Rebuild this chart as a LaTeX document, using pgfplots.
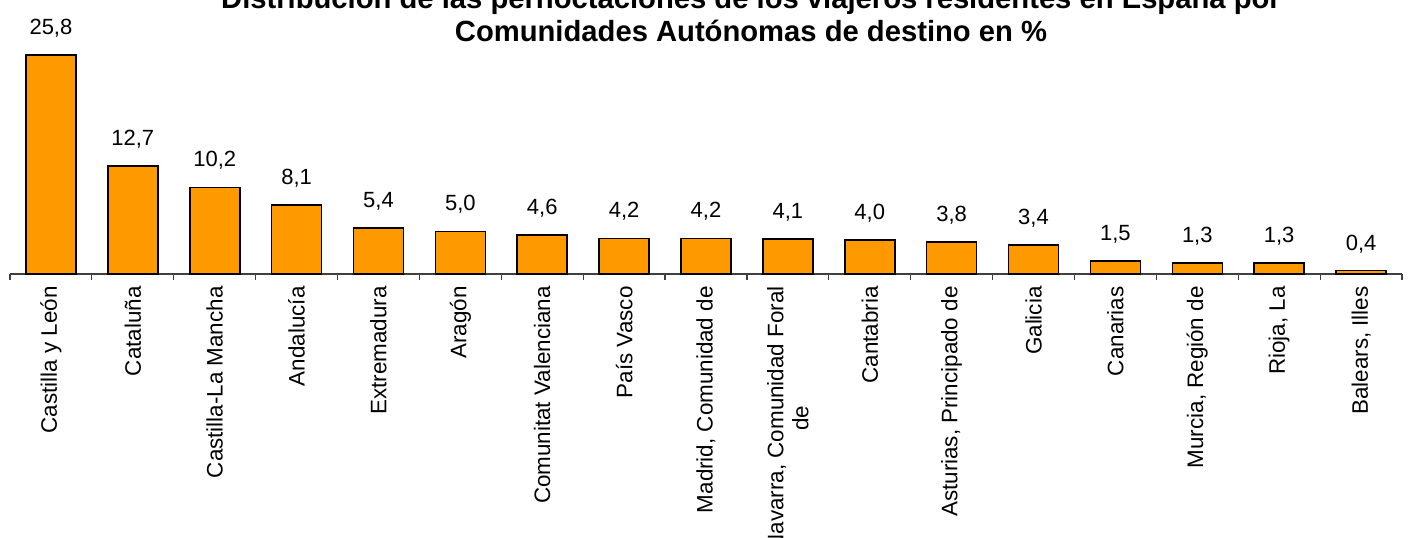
\documentclass[border=0pt]{standalone}
\usepackage{fontspec}
\setmainfont{Liberation Sans}
\usepackage{pgfplots}
\pgfplotsset{compat=1.18}
\definecolor{barorange}{HTML}{FF9900}
\begin{document}
\begin{tikzpicture}
\begin{axis}[
  at={(5pt,-137pt)}, anchor=south west,
  scale only axis,
  width=696pt, height=137pt,
  xmin=-0.5, xmax=16.5,
  ymin=0, ymax=32.3,
  axis x line=bottom,
  axis y line=none,
  axis line style={black!75, line width=0.6pt, -},
  xtick={0,...,16},
  major tick length=0pt,
  minor xtick={-0.5,0.5,...,16.5},
  minor tick length=3pt,
  minor tick style={black!75, line width=0.6pt},
  tick align=outside,
  xticklabels={Castilla y León,Cataluña,Castilla-La Mancha,Andalucía,Extremadura,Aragón,Comunitat Valenciana,País Vasco,{Madrid, Comunidad de},{Navarra, Comunidad Foral\\de},Cantabria,{Asturias, Principado de},Galicia,Canarias,{Murcia, Región de},{Rioja, La},{Balears, Illes}},
  xticklabel style={rotate=90, anchor=east, align=center, font=\fontsize{11.2}{12.5}\selectfont, inner sep=0pt, xshift=-6pt},
  ybar,
  bar width=25pt,
  nodes near coords,
  nodes near coords style={anchor=base, yshift=10.3pt, font=\fontsize{11}{13}\selectfont, inner sep=0pt},
  /pgf/number format/.cd, use comma, fixed, fixed zerofill, precision=1, assume math mode=true,
  /pgfplots/.cd,
  clip=false,
]
\addplot[fill=barorange, draw=black, line width=0.8pt] coordinates {
(0,25.8) (1,12.7) (2,10.2) (3,8.1) (4,5.4) (5,5.0) (6,4.6) (7,4.2) (8,4.2) (9,4.1) (10,4.0) (11,3.8) (12,3.4) (13,1.5) (14,1.3) (15,1.3) (16,0.4)
};
\end{axis}
\node[anchor=base, font=\bfseries\fontsize{14.6}{17}\selectfont, inner sep=0pt] at (375.5pt,-4pt) {Distribución de las pernoctaciones de los viajeros residentes en España por};
\node[anchor=base, font=\bfseries\fontsize{14.6}{17}\selectfont, inner sep=0pt] at (375.5pt,-20.5pt) {Comunidades Autónomas de destino en \%};
\pgfresetboundingbox
\useasboundingbox (0pt,0pt) rectangle (705pt,-268.5pt);
\end{tikzpicture}
\end{document}
